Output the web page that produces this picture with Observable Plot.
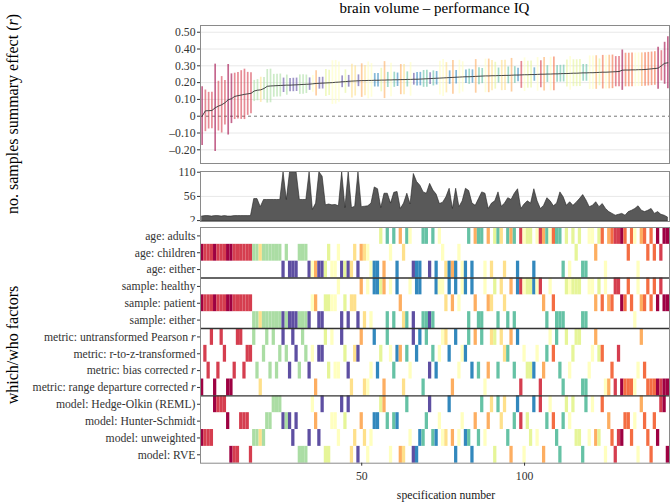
<!DOCTYPE html>
<html><head><meta charset="utf-8">
<script src="https://cdn.jsdelivr.net/npm/d3@7"></script>
<script src="https://cdn.jsdelivr.net/npm/@observablehq/plot@0.6"></script>
<style>
body{margin:0;background:#fff;font-family:"Liberation Serif","Times New Roman",serif;color:#000;}
#wrap{position:relative;width:672px;height:502px;overflow:hidden;}
#wrap svg, #wrap svg text, #wrap svg tspan{font-family:"Liberation Serif","Times New Roman",serif !important;font-size:11.7px !important;}
.abs{position:absolute;}
.title{left:200px;width:469px;top:-1px;text-align:center;font-size:15px;line-height:18px;}
.ylab{font-size:16px;line-height:18px;white-space:nowrap;transform:translate(-50%,-50%) rotate(-90deg);}
.xlab{font-size:11.7px;line-height:14px;white-space:nowrap;transform:translateX(-50%);color:#1a1a1a;}
</style></head><body><div id="wrap"></div>
<script>
// ---- data ----
const rEst = [0.000,0.032,0.033,0.034,0.050,0.060,0.068,0.080,0.098,0.104,
0.118,0.122,0.126,0.130,0.133,0.136,0.150,0.155,0.157,0.165,
0.178,0.180,0.181,0.182,0.183,0.184,0.185,0.185,0.186,0.187,
0.188,0.189,0.190,0.191,0.193,0.195,0.196,0.197,0.198,0.199,
0.200,0.202,0.203,0.205,0.206,0.208,0.209,0.210,0.211,0.212,
0.212,0.213,0.213,0.214,0.214,0.215,0.215,0.216,0.216,0.217,
0.217,0.218,0.218,0.219,0.219,0.220,0.220,0.221,0.222,0.223,
0.224,0.225,0.226,0.227,0.228,0.229,0.230,0.231,0.232,0.233,
0.234,0.235,0.235,0.236,0.237,0.238,0.239,0.240,0.240,0.241,
0.241,0.242,0.242,0.243,0.243,0.244,0.245,0.245,0.246,0.247,
0.247,0.248,0.248,0.249,0.250,0.250,0.251,0.251,0.252,0.252,
0.253,0.254,0.254,0.255,0.256,0.256,0.257,0.258,0.258,0.259,
0.259,0.260,0.261,0.262,0.262,0.263,0.264,0.265,0.266,0.274,
0.275,0.275,0.276,0.276,0.277,0.277,0.278,0.280,0.282,0.284,
0.286,0.300,0.315,0.318];
const ciHalf = [0.175,0.124,0.109,0.109,0.260,0.148,0.168,0.133,0.210,0.148,
0.138,0.138,0.145,0.150,0.128,0.122,0.063,0.063,0.075,0.065,
0.100,0.100,0.068,0.068,0.068,0.043,0.060,0.040,0.040,0.040,
0.058,0.058,0.055,0.037,0.050,0.075,0.035,0.035,0.080,0.075,
0.130,0.130,0.120,0.035,0.070,0.035,0.100,0.090,0.035,0.100,
0.090,0.110,0.100,0.040,0.040,0.070,0.110,0.045,0.100,0.045,
0.040,0.090,0.090,0.045,0.100,0.035,0.040,0.040,0.050,0.050,
0.035,0.045,0.040,0.100,0.110,0.090,0.040,0.100,0.040,0.100,
0.090,0.040,0.045,0.040,0.100,0.050,0.045,0.100,0.100,0.090,
0.080,0.045,0.090,0.090,0.050,0.100,0.050,0.040,0.080,0.100,
0.080,0.080,0.040,0.100,0.080,0.100,0.050,0.100,0.100,0.050,
0.050,0.050,0.080,0.100,0.080,0.080,0.080,0.050,0.050,0.100,
0.100,0.100,0.080,0.100,0.100,0.100,0.100,0.090,0.090,0.120,
0.100,0.100,0.100,0.100,0.100,0.100,0.100,0.100,0.100,0.100,
0.125,0.090,0.125,0.155];
const nSamples = [11,12,12,11,12,12,11,12,11,11,
12,12,12,12,12,12,50,50,32,48,
48,48,48,48,48,110,48,110,110,110,
48,48,48,110,26,40,110,100,36,38,
36,37,34,110,30,110,30,33,110,32,
33,34,40,76,72,30,62,62,40,64,
66,28,40,62,38,106,88,80,65,62,
84,69,60,39,42,54,73,28,73,32,
45,73,68,40,35,50,65,62,28,40,
45,65,33,40,52,48,62,72,28,38,
45,40,72,45,28,35,52,45,34,40,
65,54,35,43,35,42,50,59,47,32,
35,43,32,39,28,21,17,13,15,17,
13,21,24,28,34,24,21,24,28,17,
21,15,13,9];
// colour bin of each specification (1 = lowest ... 11 = highest)
const colourBin = [1,2,2,2,1,2,2,2,1,1, 2,2,2,2,2,2,8,8,5,8,
8,8,8,8,8,11,8,11,11,11, 8,8,8,11,6,4,11,11,7,7,
6,6,6,11,7,11,5,5,11,4, 5,6,6,10,10,7,4,9,6,9,
10,4,5,9,6,11,10,10,9,9, 11,9,10,6,6,5,10,4,10,6,
6,10,9,10,4,9,9,6,4,5, 7,9,5,5,9,4,9,10,2,6,
7,7,10,6,2,4,9,6,3,9, 9,9,7,6,7,7,7,9,9,6,
6,4,7,3,6,4,3,2,2,1, 3,3,3,6,6,4,3,3,3,3, 1,2,1,1];
const ageCode = ("C C C C C C C C C C C C C C C C C C C C " +
"C C C C C E C E E E C C C E E E E E E C " +
"E E C E E E E C E C C C E E E A E A C A " +
"E A C A A E E E A A E A E A C E E E E C " +
"E E A E A A A E A E A A A E A A A E A A " +
"A A E A A A A A A A A E A E A C A E E A " +
"A C A A E A A A A A A C A A E A A C A C A C A A").split(" ");
const sampleCode = ("P P P P P P P P P P P P P P P P E E E E " +
"E E E E E E E E E E E E E E P P E E P P " +
"P P H E P E P P E H E H E H H H H E H E " +
"H P E E H E H H E E E E H H H P H P H P " +
"H H E H P E E H P P H E H P E H E H H H " +
"H H H H H P E H P E E E H H H H H E E H " +
"H P H P H P P H H P P H P E H P P H P H P H P P").split(" ");
const metricCode = ("R Z B U R B U Z R R B U U B Z Z U B R Z " +
"U B U B Z U Z B U Z B U Z B Z R Z Z U B " +
"U B B U Z B R Z Z U R R B U B Z R U Z B " +
"Z Z R Z B U Z U R U B Z B Z U U Z R U B " +
"Z Z U B U B U R B U U B U Z Z U B U R Z " +
"B B B Z R B Z U Z U B R U B Z U U R R B " +
"Z U Z Z R R B R Z R R R R R B U B R R R R R R R").split(" ");
const modelCode = ("W W W W HO HO HO HO HS V V V HS HS HS V W W W W " +
"HS HS HO HO HO HS HS HS W HS V V V W HO HS W HO V V " +
"HS HS W HO HS HO V W V HS W V W HS HS HO HO HS V HS " +
"HS V V HO W V V W W HS HO W W HS W W HO W V W " +
"HS W W V HS W HO W HS HO V HO HS HO W V HS HO HS V " +
"HS W HO W HO V HS HO HS W V HS HO HS HO W W V HO W " +
"HO W W HO V HS W V W W HS HS W HS V HO HS W V HS W HO HO V").split(" ");

const ageLevels = [["A","age: adults"],["C","age: children"],["E","age: either"]];
const sampleLevels = [["H","sample: healthy"],["P","sample: patient"],["E","sample: either"]];
const metricLevels = [["U","metric: untransformed Pearson r"],["Z","metric: r-to-z-transformed"],["B","metric: bias corrected r"],["R","metric: range departure corrected r"]];
const modelLevels = [["HO","model: Hedge-Olkin (REML)"],["HS","model: Hunter-Schmidt"],["W","model: unweighted"],["V","model: RVE"]];
const effectTicks = [-0.2,-0.1,0,0.1,0.2,0.3,0.4,0.5];
const sampleTicks = [2,56,110];
const specTicks = [50,100];

// ---- build tables ----
const N = rEst.length;
const specs = d3.range(N).map(k => ({spec: k + 1, r: rEst[k], lo: rEst[k] - ciHalf[k], hi: rEst[k] + ciHalf[k], n: nSamples[k], bin: colourBin[k]}));
const groups = [[ageCode, ageLevels],[sampleCode, sampleLevels],[metricCode, metricLevels],[modelCode, modelLevels]];
const rowLabels = [];
const rowOffset = [];
groups.forEach(([codes, levels]) => { rowOffset.push(rowLabels.length); levels.forEach(l => rowLabels.push(l[1])); });
const tiles = [];
groups.forEach(([codes, levels], g) => {
  codes.forEach((c, k) => {
    const row = rowOffset[g] + levels.findIndex(l => l[0] === c);
    tiles.push({spec: k + 1, row, bin: colourBin[k]});
  });
});
const separators = rowOffset.slice(1);
const rowCenters = rowLabels.map((_, i) => i + 0.5);

const colour = {type: "ordinal", domain: d3.range(1, 12), range: d3.schemeSpectral[11]};
const xScale = {domain: [0.5, N + 0.5]};
const common = {width: 672, marginLeft: 200, marginRight: 3,
  style: {color: "#333", background: "white", overflow: "visible"}};
const frameColour = "#8a8a8a";
const wrap = document.getElementById("wrap");
function place(node, top) {
  node.setAttribute("font-family", "Liberation Serif");
  node.setAttribute("font-size", "11.7");
  const d = document.createElement("div");
  d.className = "abs"; d.style.left = "0px"; d.style.top = top + "px";
  d.appendChild(node); wrap.appendChild(d);
}

// panel 1: summary effect
const p1 = Plot.plot({...common, height: 147, marginTop: 5, marginBottom: 4,
  x: {...xScale, axis: null},
  y: {domain: [-0.2815, 0.54], axis: null},
  color: colour,
  marks: [
    Plot.ruleY(effectTicks.filter(d => d !== 0), {stroke: "#e8e8e8", strokeWidth: 1}),
    Plot.ruleY([0], {stroke: "#666", strokeDasharray: "3,3", strokeWidth: 0.9}),
    Plot.ruleX(specs, {x: "spec", y1: "lo", y2: "hi", stroke: "bin", strokeOpacity: 0.6, strokeWidth: 1.7}),
    Plot.line(specs, {x: "spec", y: "r", stroke: "#333", strokeWidth: 0.9}),
    Plot.frame({stroke: frameColour}),
    Plot.axisY({ticks: effectTicks, tickSize: 3, tickPadding: 2,
      tickFormat: d => d === 0 ? "0" : (d < 0 ? "\u2013" : "") + Math.abs(d).toFixed(2), label: null})
  ]});
place(p1, 20);

// panel 2: number of samples
const p2 = Plot.plot({...common, height: 58, marginTop: 4, marginBottom: 4,
  x: {...xScale, axis: null},
  y: {domain: [0, 111.6], axis: null},
  marks: [
    Plot.ruleY([56], {stroke: "#e8e8e8"}),
    Plot.areaY(specs, {x: "spec", y: "n", fill: "#595959", stroke: "#222", strokeWidth: 0.6}),
    Plot.frame({stroke: frameColour}),
    Plot.axisY({ticks: sampleTicks, tickSize: 3, tickPadding: 2, label: null})
  ]});
place(p2, 167);

// panel 3: which/who factors
const p3 = Plot.plot({...common, height: 280, marginTop: 5, marginBottom: 39.3,
  x: {...xScale},
  y: {domain: [0, rowLabels.length], reverse: true, axis: null},
  color: colour,
  marks: [
    Plot.rect(tiles, {x1: d => d.spec - 0.5, x2: d => d.spec + 0.5, y1: "row", y2: d => d.row + 1, fill: "bin"}),
    Plot.ruleY(separators, {stroke: "#333", strokeWidth: 1.4}),
    Plot.frame({stroke: frameColour}),
    Plot.axisY({ticks: rowCenters, tickSize: 3, tickPadding: 2, tickFormat: d => rowLabels[Math.round(d - 0.5)], label: null}),
    Plot.axisX({ticks: specTicks, tickSize: 3, tickPadding: 5, label: null})
  ]});
p3.querySelectorAll('g[aria-label="y-axis tick label"] text').forEach(t => {
  const s = t.textContent;
  if (s.endsWith(" r")) {
    t.textContent = s.slice(0, -1);
    const ts = document.createElementNS("http://www.w3.org/2000/svg", "tspan");
    ts.setAttribute("font-style", "italic"); ts.textContent = "r"; t.appendChild(ts);
  }
});
place(p3, 222);

// texts
function addText(cls, html, left, top) {
  const d = document.createElement("div");
  d.className = "abs " + cls; d.innerHTML = html;
  if (left !== null) d.style.left = left + "px";
  d.style.top = top + "px"; wrap.appendChild(d);
}
addText("title", "brain volume \u2013 performance IQ", null, -1);
addText("ylab", "no. samples summary effect (<i>r</i>)", 12.5, 114);
addText("ylab", "which/who factors", 12.5, 345);
addText("xlab", "specification number", 446, 489);
</script></body></html>
